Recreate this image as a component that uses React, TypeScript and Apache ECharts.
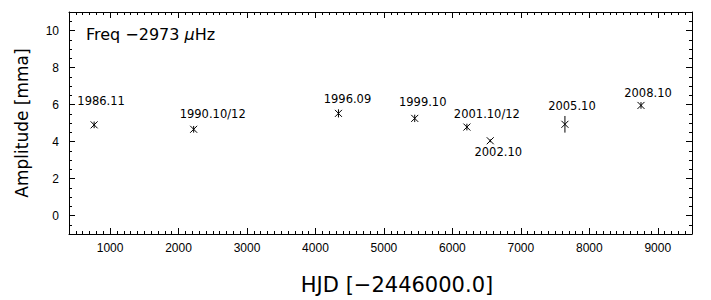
import React, { useEffect, useRef } from "react";
import * as echarts from "echarts";

// ---- data ----
const epochs = ["1986.11", "1990.10/12", "1996.09", "1999.10", "2001.10/12", "2002.10", "2005.10", "2008.10"];
const hjd = [767, 2221, 4336, 5450, 6212, 6553, 7644, 8755];
const amplitude = [4.9, 4.66, 5.52, 5.25, 4.78, 4.04, 4.93, 5.95];
const amplitudeErr = [0.18, 0.18, 0.22, 0.2, 0.18, 0.08, 0.45, 0.18];

const xMajorTicks = [1000, 2000, 3000, 4000, 5000, 6000, 7000, 8000, 9000];
const yMajorTicks = [0, 2, 4, 6, 8, 10];

// ---- style (label offsets in px from each point) ----
const labelOffsets: [number, number][] = [
  [7, -24], [19, -15], [9, -14], [8, -16], [20, -13], [8, 11], [7, -18], [7, -12],
];

const xMinorTicks: number[] = [];
for (let v = 500; v <= 9400; v += 100) if (v % 1000 !== 0) xMinorTicks.push(v);
const yMinorTicks: number[] = [];
for (let v = -0.5; v <= 10.5; v += 0.5) if (Math.abs(v % 2) > 1e-9) yMinorTicks.push(v);

const BLACK = "#000";
const TICK_FONT = "Liberation Sans";
const TEXT_FONT = "DejaVu Sans";

function makeAxis(kind: "x" | "y", position: string, major: boolean, labels: boolean) {
  const isX = kind === "x";
  return {
    type: "value",
    gridIndex: 0,
    position,
    min: isX ? 400 : -1,
    max: isX ? 9500 : 11,
    axisLine: { show: major, onZero: false, lineStyle: { color: BLACK, width: 1 } },
    axisTick: {
      show: true,
      inside: true,
      length: major ? 6 : 3,
      customValues: major ? (isX ? xMajorTicks : yMajorTicks) : isX ? xMinorTicks : yMinorTicks,
      lineStyle: { color: BLACK, width: 1 },
    },
    axisLabel: labels
      ? {
          show: true,
          customValues: isX ? xMajorTicks : yMajorTicks,
          formatter: (v: number) => String(v),
          margin: isX ? 8 : 10,
          fontSize: 12,
          fontFamily: TICK_FONT,
          color: BLACK,
        }
      : { show: false },
    splitLine: { show: false },
  };
}

export default function App() {
  const ref = useRef<HTMLDivElement>(null);

  useEffect(() => {
    if (!ref.current) return;
    const chart = echarts.init(ref.current, null, { renderer: "svg" });
    const option: any = {
      animation: false,
      backgroundColor: "#fff",
      grid: { left: 69, right: 19, top: 12, bottom: 66, containLabel: false },
      xAxis: [
        makeAxis("x", "bottom", true, true),
        makeAxis("x", "bottom", false, false),
        makeAxis("x", "top", true, false),
        makeAxis("x", "top", false, false),
      ],
      yAxis: [
        makeAxis("y", "left", true, true),
        makeAxis("y", "left", false, false),
        makeAxis("y", "right", true, false),
        makeAxis("y", "right", false, false),
      ],
      graphic: [
        {
          type: "text",
          x: 86,
          y: 34.5,
          style: {
            text: "{a|Freq −2973 }{b|μ}{a|Hz}",
            align: "left",
            verticalAlign: "middle",
            rich: {
              a: { fontFamily: TEXT_FONT, fontSize: 16, fill: BLACK, color: BLACK },
              b: { fontFamily: TEXT_FONT, fontSize: 16, fontStyle: "italic", fill: BLACK, color: BLACK },
            },
          },
        },
        {
          type: "text",
          x: 22,
          y: 123,
          rotation: Math.PI / 2,
          style: {
            text: "Amplitude [mma]",
            fontFamily: TEXT_FONT,
            fontSize: 17,
            fill: BLACK,
            align: "center",
            verticalAlign: "middle",
          },
        },
        {
          type: "text",
          x: 397,
          y: 285,
          style: {
            text: "HJD [−2446000.0]",
            fontFamily: TEXT_FONT,
            fontSize: 21,
            fill: BLACK,
            align: "center",
            verticalAlign: "middle",
          },
        },
      ],
      series: [
        {
          type: "custom",
          coordinateSystem: "cartesian2d",
          xAxisIndex: 0,
          yAxisIndex: 0,
          clip: false,
          data: hjd.map((x, i) => [x, amplitude[i], amplitudeErr[i]]),
          renderItem: (params: any, api: any) => {
            const x = api.value(0);
            const y = api.value(1);
            const e = api.value(2);
            const p = api.coord([x, y]);
            const top = api.coord([x, y + e]);
            const bot = api.coord([x, y - e]);
            const s = 3.5;
            const lineStyle = { stroke: BLACK, lineWidth: 1 };
            const off = labelOffsets[params.dataIndex];
            return {
              type: "group",
              children: [
                { type: "line", shape: { x1: top[0], y1: top[1], x2: bot[0], y2: bot[1] }, style: lineStyle },
                { type: "line", shape: { x1: p[0] - s, y1: p[1] - s, x2: p[0] + s, y2: p[1] + s }, style: lineStyle },
                { type: "line", shape: { x1: p[0] - s, y1: p[1] + s, x2: p[0] + s, y2: p[1] - s }, style: lineStyle },
                {
                  type: "text",
                  x: p[0] + off[0],
                  y: p[1] + off[1],
                  style: {
                    text: epochs[params.dataIndex],
                    fill: BLACK,
                    fontFamily: TEXT_FONT,
                    fontSize: 11.5,
                    align: "center",
                    textAlign: "center",
                    verticalAlign: "middle",
                    textVerticalAlign: "middle",
                  },
                },
              ],
            };
          },
        },
      ],
    };
    chart.setOption(option);
    return () => chart.dispose();
  }, []);

  return (
    <div
      ref={ref}
      style={{ position: "fixed", left: 0, top: 0, width: 711, height: 300, background: "#fff" }}
    />
  );
}
